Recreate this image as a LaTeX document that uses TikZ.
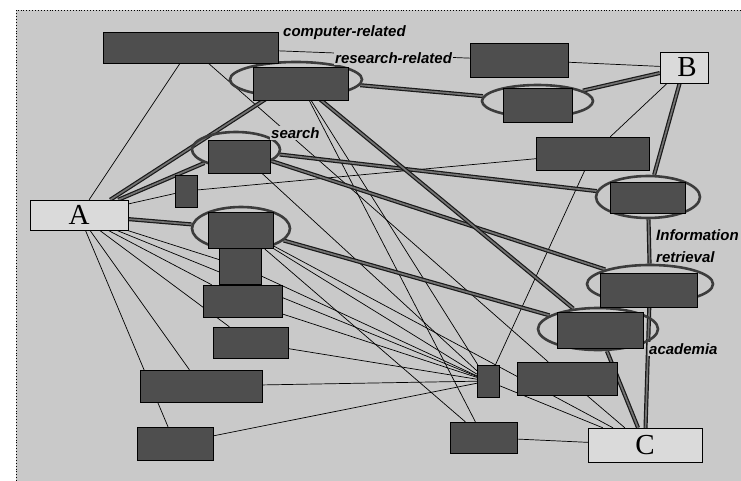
\documentclass[tikz,border=0pt]{standalone}
\usepackage{fontspec}
\setmainfont{Liberation Serif}
\newfontfamily\tagfont{Liberation Sans}
\usetikzlibrary{positioning, shapes.geometric, backgrounds}
\definecolor{paper}{HTML}{C9C9C9}
\definecolor{slabfill}{HTML}{4E4E4E}
\definecolor{palefill}{HTML}{DADADA}
\definecolor{ringline}{HTML}{3C3C3C}
\definecolor{wirefill}{HTML}{737373}
\pgfdeclarelayer{back}
\pgfdeclarelayer{wires}
\pgfsetlayers{back,wires,main}

\begin{document}
\begin{tikzpicture}[x=1pt, y=-1pt,
    size/.style 2 args={minimum width=#1pt, minimum height=#2pt},
    slab/.style={draw=black, fill=slabfill, inner sep=0pt},
    letter/.style={draw=black, fill=palefill, inner sep=0pt,
      font=\fontsize{29}{29}\selectfont},
    ring/.style={ellipse, draw=ringline, line width=2.6pt, inner sep=0pt},
    tag/.style={font=\tagfont\bfseries\itshape\fontsize{15}{22}\selectfont,
      fill=paper, inner sep=1pt, anchor=west},
    weak/.style={black, line width=0.7pt},
    strong/.style={draw=black!90, line width=1.2pt, double=wirefill, double distance=1.7pt}
]
  \useasboundingbox (0,0) rectangle (741,481);
  \begin{pgfonlayer}{back}
    \fill[paper] (16,10) rectangle (741,481);
    \draw[dotted, line width=0.9pt] (16,481) -- (16,10) -- (741,10);
  \end{pgfonlayer}

  % rings first, boxes on top
  \node[ring, size={132}{35}] (rrE) at (296,79.5) {};
  \node[ring, size={111}{32}] (e2E) at (537.5,101) {};
  \node[ring, size={104}{42}] (e3E) at (648,197) {};
  \node[ring, size={126}{38}] (e4E) at (650,284) {};
  \node[ring, size={120}{42}] (e5E) at (598,329) {};
  \node[ring, size={88}{35}] (seE) at (236,149.5) {};
  \node[ring, size={98}{43}] (e6E) at (241,228.5) {};

  % dark boxes
  \node[slab, size={175}{31}] (top) at (190.5,47.5) {};
  \node[slab, size={95}{33}] (rr) at (300.5,83.5) {};
  \node[slab, size={98}{34}] (tr) at (519,60) {};
  \node[slab, size={69}{34}] (e2) at (537.5,105) {};
  \node[slab, size={113}{33}] (mr) at (592.5,153.5) {};
  \node[slab, size={75}{31}] (e3) at (647.5,197.5) {};
  \node[slab, size={97}{34}] (e4) at (648.5,290) {};
  \node[slab, size={86}{36}] (e5) at (600,330) {};
  \node[slab, size={22}{32}] (hub) at (488,381) {};
  \node[slab, size={100}{33}] (hr) at (567,378.5) {};
  \node[slab, size={67}{31}] (bb) at (483.5,437.5) {};
  \node[slab, size={62}{33}] (se) at (239,156.5) {};
  \node[slab, size={22}{32}] (sm) at (186,191) {};
  \node[slab, size={65}{36}] (e6) at (240.5,230) {};
  \node[slab, size={42}{36}, below=0pt of e6.south] (tall) {};
  \node[slab, size={79}{32}] (b1) at (242.5,301) {};
  \node[slab, size={75}{31}] (b2) at (250.5,342.5) {};
  \node[slab, size={122}{32}] (b3) at (201,386) {};
  \node[slab, size={76}{33}] (b4) at (175,443.5) {};

  % A, B, C
  \node[letter, size={98}{30}] (A) at (79,215) {A};
  \node[letter, size={48}{31}] (B) at (684,67.5) {\hspace{6pt}B};
  \node[letter, size={114}{34}] (C) at (645,445) {C};

  % labels
  \node[tag] (lcomp) at (282,33) {computer-related};
  \node[tag] (lres) at (334,58) {research-related};
  \node[tag] (lsea) at (270,133) {search};
  \node[tag, anchor=north west, align=left] (linf) at (655,228) {Information\\retrieval};
  \node[tag] (laca) at (648,349) {academia};

  \begin{pgfonlayer}{wires}
    % thin links
    \draw[weak] (top) -- (A);
    \draw[weak] (top) -- (tr);
    \draw[weak] (top) -- (hr);
    \draw[weak] (tr) -- (B);
    \draw[weak] (B) -- (mr);
    \draw[weak] (mr) -- (hub);
    \draw[weak] (sm) -- (mr);
    \draw[weak] (A) -- (sm);
    \draw[weak] (seE) -- (hub);
    \draw[weak] (rr) -- (bb);
    \draw[weak] (rr) -- (hub);
    \draw[weak] (A) -- (tall);
    \draw[weak] (A) -- (b1);
    \draw[weak] (A) -- (b2);
    \draw[weak] (A) -- (b3);
    \draw[weak] (A) -- (b4);
    \draw[weak] (A) -- (hub);
    \draw[weak] (e6E) -- (hub);
    \draw[weak] (e6E) -- (C);
    \draw[weak] (e6E) -- (bb);
    \draw[weak] (tall) -- (hub);
    \draw[weak] (b1) -- (hub);
    \draw[weak] (b2) -- (hub);
    \draw[weak] (b3) -- (hub);
    \draw[weak] (b4) -- (hub);
    \draw[weak] (hub) -- (C);
    \draw[weak] (hr) -- (C);
    \draw[weak] (bb) -- (C);
    % heavy links
    \draw[strong] ([xshift=-18pt]A.north east) -- (rrE);
    \draw[strong] ([xshift=-10pt]A.north east) -- (seE);
    \draw[strong] (A) -- (e6E);
    \draw[strong] (rrE) -- (e2E);
    \draw[strong] (e2E) -- (B);
    \draw[strong] (B) -- (e3E);
    \draw[strong] (e3E) -- (e4E);
    \draw[strong] (e4E) -- (C);
    \draw[strong] (e5E) -- (C);
    \draw[strong] (seE) -- (e3E);
    \draw[strong] (seE) -- (e4E);
    \draw[strong] (e6E) -- (e5E);
    \draw[strong] (rrE) -- (e5E);
  \end{pgfonlayer}
\end{tikzpicture}
\end{document}
